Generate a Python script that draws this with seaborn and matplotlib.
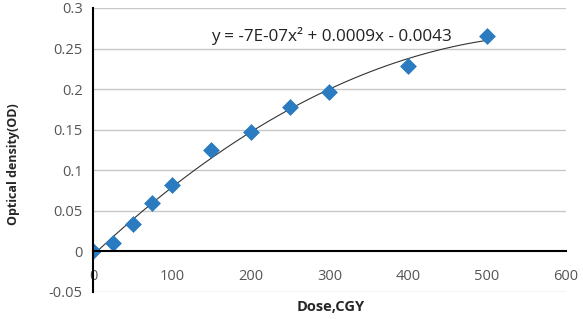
import numpy as np
import pandas as pd
import seaborn as sns
import matplotlib.pyplot as plt

# dose (cGy) vs optical density
dose = [0, 25, 50, 75, 100, 150, 200, 250, 300, 400, 500]
od = [0.0, 0.010, 0.034, 0.060, 0.082, 0.125, 0.147, 0.178, 0.196, 0.228, 0.266]
x_ticks = [0, 100, 200, 300, 400, 500, 600]
y_ticks = [-0.05, 0, 0.05, 0.1, 0.15, 0.2, 0.25, 0.3]
y_labels = ['-0.05', '0', '0.05', '0.1', '0.15', '0.2', '0.25', '0.3']
equation = 'y = -7E-07x² + 0.0009x - 0.0043'

df = pd.DataFrame({'dose': dose, 'od': od})

sns.set_style('white')
plt.rcParams['font.family'] = ['Open Sans', 'DejaVu Sans']

fig = plt.figure(figsize=(5.83, 3.19), dpi=100)
ax = fig.add_axes([0.16, 0.085, 0.81, 0.89])

# horizontal gridlines (the zero line is the x axis itself)
for yv in y_ticks:
    if yv != 0:
        ax.axhline(yv, color='#c8c8c8', lw=1.0, zorder=0)

# polynomial trendline (order 2)
sns.regplot(data=df, x='dose', y='od', order=2, ci=None, scatter=False,
            line_kws={'color': '#333333', 'lw': 0.8}, ax=ax)
sns.scatterplot(data=df, x='dose', y='od', marker='D', s=65, color='#2B7BC0',
                edgecolor='#2B7BC0', linewidth=0.5, zorder=3, ax=ax)

ax.set_xlim(0, 600)
ax.set_ylim(-0.05, 0.3)
ax.set_xticks(x_ticks)
ax.set_yticks(y_ticks)
ax.set_yticklabels(y_labels)

ax.spines['top'].set_visible(False)
ax.spines['right'].set_visible(False)
ax.spines['bottom'].set_position(('data', 0))
for s in ['left', 'bottom']:
    ax.spines[s].set_color('black')
    ax.spines[s].set_linewidth(1.5)
    ax.spines[s].set_zorder(4)
ax.tick_params(axis='both', direction='out', length=4, width=1.3,
               color='black', labelsize=10.5, labelcolor='#555555')
ax.tick_params(axis='x', pad=9)

ax.set_xlabel('')
ax.set_ylabel('Optical density(OD)', fontsize=9, fontweight='bold')
ax.yaxis.set_label_coords(-0.155, 0.45)
fig.text(0.568, 0.038, 'Dose,CGY', fontsize=10.5, fontweight='bold', ha='center', va='center')

ax.text(150, 0.266, equation, fontsize=12.3, color='#222222', va='center')

fig.savefig('out.png', dpi=100)
